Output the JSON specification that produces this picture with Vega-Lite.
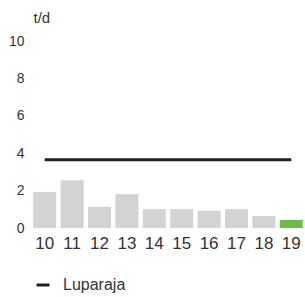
{
  "$schema": "https://vega.github.io/schema/vega-lite/v6.json",
  "width": 274,
  "height": 187,
  "autosize": "none",
  "padding": {"left": 31, "top": 41, "right": 0, "bottom": 69},
  "background": "white",
  "config": {
    "view": {"stroke": null},
    "font": "Liberation Sans",
    "axis": {"labelColor": "#333333", "titleColor": "#333333", "grid": false, "domain": false, "ticks": false}
  },
  "data": {
    "values": [
      {"year": "10", "value": 1.93, "luparaja": 3.65},
      {"year": "11", "value": 2.55, "luparaja": 3.65},
      {"year": "12", "value": 1.13, "luparaja": 3.65},
      {"year": "13", "value": 1.81, "luparaja": 3.65},
      {"year": "14", "value": 1.01, "luparaja": 3.65},
      {"year": "15", "value": 1.01, "luparaja": 3.65},
      {"year": "16", "value": 0.92, "luparaja": 3.65},
      {"year": "17", "value": 1.01, "luparaja": 3.65},
      {"year": "18", "value": 0.64, "luparaja": 3.65},
      {"year": "19", "value": 0.43, "luparaja": 3.65}
    ]
  },
  "encoding": {
    "x": {
      "field": "year",
      "type": "ordinal",
      "scale": {"paddingInner": 0.16, "paddingOuter": 0.08},
      "axis": {"title": null, "labelAngle": 0, "labelFontSize": 17, "labelPadding": 7}
    }
  },
  "layer": [
    {
      "mark": {"type": "bar"},
      "encoding": {
        "y": {
          "field": "value",
          "type": "quantitative",
          "scale": {"domain": [0, 10], "nice": false},
          "axis": {
            "values": [0, 2, 4, 6, 8, 10],
            "labelFontSize": 14,
            "labelPadding": 7,
            "labelOverlap": false,
            "labelBound": false,
            "title": "t/d",
            "titleAngle": 0,
            "titleAlign": "left",
            "titleBaseline": "alphabetic",
            "titleFontWeight": "normal",
            "titleFontSize": 15,
            "titleX": 2,
            "titleY": -19
          }
        },
        "color": {
          "condition": {"test": "datum.year == '19'", "value": "#6cbd45"},
          "value": "#d1d3d4"
        }
      }
    },
    {
      "mark": {"type": "line", "strokeWidth": 3},
      "encoding": {
        "y": {
          "field": "luparaja",
          "type": "quantitative",
          "scale": {"domain": [0, 10], "nice": false},
          "axis": {
            "values": [0, 2, 4, 6, 8, 10],
            "labelFontSize": 14,
            "labelPadding": 7,
            "labelOverlap": false,
            "labelBound": false,
            "title": "t/d",
            "titleAngle": 0,
            "titleAlign": "left",
            "titleBaseline": "alphabetic",
            "titleFontWeight": "normal",
            "titleFontSize": 15,
            "titleX": 2,
            "titleY": -19
          }
        },
        "stroke": {
          "datum": "Luparaja",
          "scale": {"range": ["#231f20"]},
          "legend": {
            "title": null,
            "orient": "none",
            "legendX": 4,
            "legendY": 236,
            "padding": 0,
            "symbolType": "stroke",
            "symbolSize": 169,
            "symbolStrokeWidth": 3,
            "labelFontSize": 16,
            "labelOffset": 12,
            "labelColor": "#333333"
          }
        }
      }
    }
  ]
}
